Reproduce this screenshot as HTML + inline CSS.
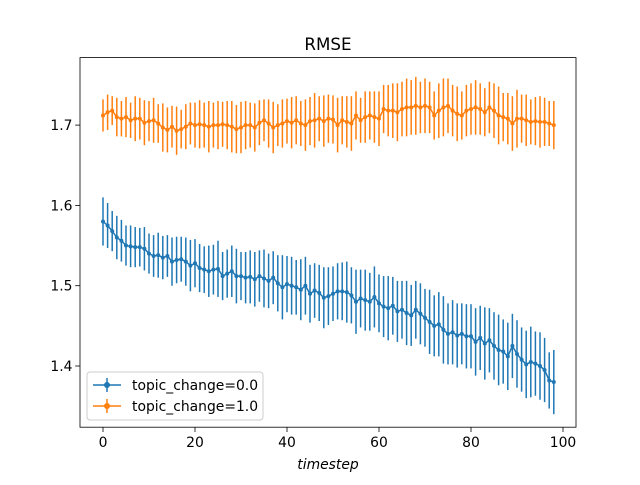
<!DOCTYPE html>
<html><head><meta charset="utf-8"><style>
body{margin:0;background:#fff;font-family:"Liberation Sans","DejaVu Sans",sans-serif}
svg text{font-family:"DejaVu Sans","Liberation Sans",sans-serif}
</style></head><body>
<svg id="chart" width="640" height="480" xmlns="http://www.w3.org/2000/svg">
<rect width="640" height="480" fill="#fff"/>
<text x="328" y="50" font-size="16.7" text-anchor="middle">RMSE</text>
<g id="plot"></g>
<rect x="80" y="57.6" width="496" height="369.6" fill="none" stroke="#000" stroke-width="0.8"/>
<g id="xt"></g>
<g id="yt"></g>
<text x="328" y="469" font-size="13.9" font-style="italic" text-anchor="middle">timestep</text>
<g>
<rect x="87" y="372" width="176" height="48" rx="3" fill="#fff" fill-opacity="0.8" stroke="#ccc"/>
<g>
<line x1="93" y1="385" x2="121" y2="385" stroke="#1f77b4" stroke-width="1.5"/><line x1="107" y1="378" x2="107" y2="392" stroke="#1f77b4" stroke-width="1.5"/><circle cx="107" cy="385" r="3" fill="#1f77b4"/>
<text x="132" y="390" font-size="13.9">topic_change=0.0</text></g>
<g>
<line x1="93" y1="406" x2="121" y2="406" stroke="#ff7f0e" stroke-width="1.5"/><line x1="107" y1="399" x2="107" y2="413" stroke="#ff7f0e" stroke-width="1.5"/><circle cx="107" cy="406" r="3" fill="#ff7f0e"/>
<text x="132" y="411" font-size="13.9">topic_change=1.0</text></g>
</g>
</svg>
<script>
const blueVals=[1.580,1.575,1.568,1.560,1.556,1.550,1.549,1.548,1.548,1.546,
1.540,1.537,1.538,1.535,1.537,1.530,1.532,1.533,1.530,1.525,
1.528,1.522,1.520,1.518,1.520,1.521,1.512,1.515,1.518,1.512,
1.512,1.510,1.511,1.508,1.512,1.509,1.506,1.510,1.503,1.498,
1.502,1.500,1.498,1.495,1.500,1.490,1.494,1.491,1.485,1.487,
1.490,1.493,1.493,1.492,1.488,1.480,1.484,1.482,1.480,1.486,
1.478,1.474,1.472,1.475,1.468,1.470,1.466,1.463,1.470,1.465,
1.460,1.455,1.450,1.452,1.445,1.440,1.442,1.438,1.440,1.437,
1.437,1.430,1.435,1.428,1.432,1.425,1.420,1.418,1.412,1.425,
1.415,1.408,1.402,1.405,1.403,1.400,1.395,1.382,1.380];
const blueErr=[0.030,0.028,0.025,0.027,0.026,0.025,0.026,0.025,0.024,0.027,
0.025,0.026,0.028,0.027,0.026,0.030,0.029,0.028,0.030,0.032,
0.030,0.030,0.029,0.032,0.031,0.035,0.030,0.030,0.032,0.034,
0.030,0.032,0.033,0.034,0.032,0.036,0.034,0.033,0.035,0.040,
0.035,0.036,0.034,0.038,0.036,0.036,0.034,0.035,0.038,0.036,
0.034,0.035,0.036,0.038,0.035,0.040,0.036,0.038,0.036,0.038,
0.036,0.038,0.040,0.036,0.038,0.036,0.040,0.038,0.036,0.038,
0.036,0.040,0.038,0.040,0.042,0.038,0.040,0.040,0.038,0.040,
0.040,0.042,0.040,0.045,0.040,0.042,0.044,0.040,0.042,0.040,
0.042,0.040,0.042,0.044,0.040,0.042,0.040,0.035,0.040];
const orangeVals=[1.712,1.716,1.718,1.710,1.708,1.710,1.706,1.708,1.708,1.703,
1.705,1.706,1.702,1.697,1.694,1.698,1.693,1.695,1.698,1.702,
1.700,1.701,1.700,1.698,1.700,1.700,1.701,1.700,1.698,1.695,
1.697,1.700,1.700,1.697,1.703,1.706,1.702,1.697,1.700,1.702,
1.705,1.703,1.706,1.702,1.700,1.705,1.706,1.708,1.705,1.708,
1.707,1.700,1.706,1.704,1.702,1.712,1.706,1.710,1.712,1.710,
1.708,1.720,1.718,1.718,1.716,1.720,1.722,1.722,1.724,1.722,
1.724,1.722,1.712,1.718,1.722,1.724,1.718,1.714,1.712,1.718,
1.720,1.722,1.720,1.716,1.722,1.718,1.712,1.710,1.708,1.702,
1.708,1.708,1.706,1.704,1.705,1.704,1.704,1.702,1.700];
const orangeErr=[0.020,0.022,0.018,0.024,0.022,0.025,0.022,0.028,0.026,0.028,
0.025,0.028,0.024,0.030,0.028,0.026,0.030,0.024,0.028,0.026,
0.028,0.030,0.028,0.032,0.028,0.030,0.028,0.030,0.032,0.030,
0.032,0.030,0.028,0.030,0.028,0.026,0.030,0.032,0.026,0.030,
0.028,0.032,0.030,0.028,0.032,0.030,0.034,0.028,0.032,0.030,
0.030,0.034,0.030,0.032,0.034,0.030,0.028,0.032,0.030,0.032,
0.034,0.030,0.032,0.034,0.036,0.034,0.036,0.034,0.036,0.032,
0.034,0.032,0.030,0.034,0.036,0.034,0.032,0.034,0.030,0.032,
0.032,0.034,0.032,0.030,0.032,0.034,0.036,0.030,0.032,0.034,
0.036,0.030,0.032,0.028,0.030,0.032,0.030,0.028,0.030];
const xTicks=[0,20,40,60,80,100];
const yTicks=[1.4,1.5,1.6,1.7];
const xs=v=>103+4.6*v;
const ys=v=>366-(v-1.4)*803;
const NS='http://www.w3.org/2000/svg';
const plot=document.getElementById('plot');
function mk(tag,parent){const e=document.createElementNS(NS,tag);parent.appendChild(e);return e;}
function series(vals,errs,color,name){
  const g=mk('g',plot);
  
  
  vals.forEach((v,i)=>{
    const l=mk('line',g);
    
    
    l.setAttribute('x1',xs(i));l.setAttribute('x2',xs(i));
    l.setAttribute('y1',ys(v-errs[i]));l.setAttribute('y2',ys(v+errs[i]));
    l.setAttribute('stroke',color);l.setAttribute('stroke-width','1.5');
  });
  const p=mk('polyline',g);
  
  
  p.setAttribute('points',vals.map((v,i)=>xs(i)+','+ys(v)).join(' '));
  p.setAttribute('fill','none');p.setAttribute('stroke',color);p.setAttribute('stroke-width','1.5');
  vals.forEach((v,i)=>{
    const c=mk('circle',g);
    
    
    c.setAttribute('cx',xs(i));c.setAttribute('cy',ys(v));c.setAttribute('r','2');c.setAttribute('fill',color);
  });
}
series(blueVals,blueErr,'#1f77b4','series-topic-0');
series(orangeVals,orangeErr,'#ff7f0e','series-topic-1');
const xt=document.getElementById('xt');
xTicks.forEach(t=>{
  const l=mk('line',xt);
  
  
  l.setAttribute('x1',xs(t));l.setAttribute('x2',xs(t));l.setAttribute('y1',427.2);l.setAttribute('y2',432);l.setAttribute('stroke','#000');l.setAttribute('stroke-width','0.8');
  const s=mk('text',xt);
  
  
  s.setAttribute('x',xs(t));s.setAttribute('y',447);s.setAttribute('font-size','13.9');s.setAttribute('text-anchor','middle');s.textContent=t;
});
const yt=document.getElementById('yt');
yTicks.forEach(t=>{
  const l=mk('line',yt);
  
  
  l.setAttribute('x1',75.2);l.setAttribute('x2',80);l.setAttribute('y1',ys(t));l.setAttribute('y2',ys(t));l.setAttribute('stroke','#000');l.setAttribute('stroke-width','0.8');
  const s=mk('text',yt);
  
  
  s.setAttribute('x',72.5);s.setAttribute('y',ys(t)+5);s.setAttribute('font-size','13.9');s.setAttribute('text-anchor','end');s.textContent=t.toFixed(1);
});
</script>
</body></html>
